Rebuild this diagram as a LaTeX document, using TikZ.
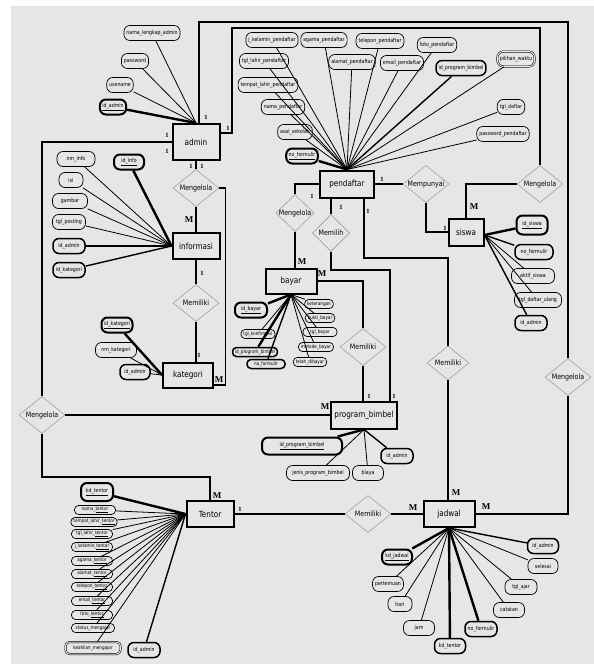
\documentclass[tikz,border=0pt]{standalone}
\usepackage{fontspec}
\setmainfont{DejaVu Sans}[FakeStretch=0.85]
\newfontfamily\cardfont{Liberation Serif}
\usetikzlibrary{shapes.geometric}
\definecolor{bgc}{HTML}{E6E6E6}
\definecolor{dgray}{HTML}{A0A0A0}
\tikzset{
  ent/.style={draw, line width=2pt, fill=bgc, inner sep=0pt, font=\fontsize{8.5}{9}\selectfont},
  rel/.style={diamond, draw=dgray, line width=0.6pt, fill=bgc, inner sep=-1.5pt, aspect=1.25, minimum width=46pt, minimum height=37pt, font=\fontsize{7.4}{8}\selectfont},
  attr/.style={draw, line width=0.7pt, rounded corners=6pt, fill=bgc, minimum height=15pt, inner xsep=2.5pt, inner ysep=0pt, font=\fontsize{5.5}{6}\selectfont},
  keyattr/.style={attr, line width=2pt},
  fkattr/.style={attr, line width=1.5pt},
  dblattr/.style={attr, double=bgc, double distance=1pt, line width=0.5pt},
  sattr/.style={attr, minimum height=9pt, rounded corners=4pt, font=\fontsize{4.9}{5.5}\selectfont},
  sfkattr/.style={sattr, line width=1.5pt},
  sdblattr/.style={sattr, double=bgc, double distance=1pt, line width=0.5pt, minimum height=12pt},
  al/.style={line width=0.8pt},
  kl/.style={line width=2.4pt},
  fl/.style={line width=1.4pt},
  conn/.style={line width=1.3pt},
  cardm/.style={font=\cardfont\bfseries\fontsize{9}{9}\selectfont, inner sep=0pt},
  cardone/.style={font=\cardfont\bfseries\fontsize{6.5}{7}\selectfont, inner sep=0pt}
}
\begin{document}
\begin{tikzpicture}[x=1pt,y=-1pt]
\useasboundingbox (0,0) rectangle (594,664);
\fill[white] (0,0) rectangle (594,664);
\fill[bgc] (11,6) rectangle (594,664);

% ---------- entities ----------
\node[ent, minimum width=47pt, minimum height=36pt] (admin) at (196,142) {admin};
\node[ent, minimum width=54pt, minimum height=27pt] (pendaftar) at (347,184) {pendaftar};
\node[ent, minimum width=47pt, minimum height=26pt] (informasi) at (196,246) {informasi};
\node[ent, minimum width=50pt, minimum height=25pt] (kategori) at (188,375) {kategori};
\node[ent, minimum width=51pt, minimum height=25pt] (bayar) at (291,281) {bayar};
\node[ent, minimum width=35pt, minimum height=27pt] (siswa) at (466,232) {siswa};
\node[ent, minimum width=66pt, minimum height=27pt] (program_bimbel) at (364,415) {program\_bimbel};
\node[ent, minimum width=47pt, minimum height=26pt] (Tentor) at (210,514) {Tentor};
\node[ent, minimum width=51pt, minimum height=26pt] (jadwal) at (449,514) {jadwal};

% ---------- relationships ----------
\node[rel] (R1) at (196,188) {Mengelola};
\node[rel] (R2) at (196,303) {Memiliki};
\node[rel, minimum width=38pt, aspect=1] (R3) at (295,213) {Mengelola};
\node[rel, minimum width=37pt, aspect=1] (R4) at (331,233) {Memilih};
\node[rel] (R5) at (363,347) {Memiliki};
\node[rel, minimum width=42pt, minimum height=34pt] (R6) at (448,363) {Memiliki};
\node[rel] (R7) at (540,184) {Mengelola};
\node[rel] (R8) at (568,377) {Mengelola};
\node[rel] (R9) at (42,415) {Mengelola};
\node[rel] (R10) at (426,184) {Mempunyai};
\node[rel] (R11) at (368,514) {Memiliki};

% ---------- connectors ----------
\coordinate (k1) at (390,270);
\coordinate (k2) at (364,258);
\draw[conn] ([xshift=3pt]admin.north) |- (568,22) -- (R8.north);
\draw[conn] (R8.south) |- (jadwal.east);
\draw[conn] ([yshift=9pt]admin.east) -| (232,28) -| (R7.north);
\draw[conn] (R7.west) -| (siswa.north);
\draw[conn] (admin.west) -| (R9.north);
\draw[conn] (R9.east) -- (program_bimbel.west);
\draw[conn] (Tentor.north) -- ++(0,-23) -| (R9.south);
\draw[conn] (admin.south) -- (R1.north);
\draw[conn] (R1.south) -- (informasi.north);
\draw[conn] (R1.east) -- ++(6,0) |- ([yshift=-10pt]kategori.east);
\draw[conn] (informasi.south) -- (R2.north);
\draw[conn] (R2.south) -- (R2.south |- kategori.north);
\draw[conn] (pendaftar.west) -| (R3.north);
\draw[conn] (R3.south) -- (R3.south |- bayar.north);
\draw[conn] (pendaftar.south -| R4.north) -- (R4.north);
\draw[conn] (R4.south) |- (k1) -- (k1 |- program_bimbel.north);
\draw[conn] (pendaftar.south -| k2) -- (k2) -| (R6.north);
\draw[conn] (R6.south) -- (R6.south |- jadwal.north);
\draw[conn] (bayar.east) -| (R5.north);
\draw[conn] (R5.south) -- (R5.south |- program_bimbel.north);
\draw[conn] (pendaftar.east) -- (R10.west);
\draw[conn] (R10.south) |- (siswa.west);
\draw[conn] (Tentor.east) -- (R11.west);
\draw[conn] (R11.east) -- (jadwal.west);

% ---------- cardinalities ----------
\node[cardone] (c1) at (206,117) {1};
\node[cardone] (c2) at (228,128) {1};
\node[cardone] (c3) at (167,135) {1};
\node[cardone] (c4) at (167,151) {1};
\node[cardone] (c5) at (191,166) {1};
\node[cardone] (c6) at (202,166) {1};
\node[cardm] (c7) at (189,220) {M};
\node[cardone] (c8) at (202,273) {1};
\node[cardone] (c9) at (199,355) {1};
\node[cardm] (c10) at (219,380) {M};
\node[cardone] (c11) at (312,196) {1};
\node[cardm] (c12) at (302,262) {M};
\node[cardone] (c13) at (341,207) {1};
\node[cardone] (c14) at (368,211) {1};
\node[cardm] (c15) at (322,274) {M};
\node[cardone] (c16) at (382,179) {1};
\node[cardone] (c17) at (445,228) {1};
\node[cardm] (c18) at (474,207) {M};
\node[cardone] (c19) at (369,396) {1};
\node[cardone] (c20) at (394,396) {1};
\node[cardm] (c21) at (325,407) {M};
\node[cardm] (c22) at (217,496) {M};
\node[cardone] (c23) at (240,509) {1};
\node[cardm] (c24) at (413,508) {M};
\node[cardm] (c25) at (456,493) {M};
\node[cardm] (c26) at (486,507) {M};

% ---------- admin attributes ----------
\node[attr] (ad1) at (152,33) {nama\_lengkap\_admin};
\node[attr] (ad2) at (135,61) {password};
\node[attr] (ad3) at (120,85) {usename};
\node[keyattr] (ad4) at (113,107) {\underline{id\_admin}};
\draw[al] (ad1) -- (admin.north);
\draw[al] (ad2) -- (admin.north);
\draw[al] (ad3) -- (admin.north);
\draw[kl] (ad4) -- (admin.north);

% ---------- pendaftar attributes ----------
\node[attr] (p1) at (272,40) {j\_kelamin\_pendaftar};
\node[attr] (p2) at (324,40) {agama\_pendaftar};
\node[attr] (p3) at (380,41) {telepon\_pendaftar};
\node[attr] (p4) at (437,45) {foto\_pendaftar};
\node[attr] (p5) at (264,61) {tgl\_lahir\_pendaftar};
\node[attr] (p6) at (352,62) {alamat\_pendaftar};
\node[attr] (p7) at (402,63) {email\_pendaftar};
\node[fkattr] (p8) at (461,68) {id\_program\_bimbel};
\node[dblattr] (p9) at (516,59) {pilihan\_waktu};
\node[attr] (p10) at (268,85) {tempat\_lahir\_pendaftar};
\node[attr] (p11) at (283,107) {nama\_pendaftar};
\node[attr] (p12) at (511,107) {tgl\_daftar};
\node[attr] (p13) at (295,132) {asal\_sekolah};
\node[attr] (p14) at (503,134) {password\_pendaftar};
\node[keyattr] (p15) at (302,156) {\underline{no\_formulir}};
\foreach \n in {p1,p2,p3,p4,p5,p6,p7,p9,p10,p11,p12,p13,p14}{\draw[al] (\n) -- (pendaftar.north);}
\draw[fl] (p8) -- (pendaftar.north);
\draw[kl] (p15) -- (pendaftar.north);

% ---------- informasi attributes ----------
\node[attr, minimum width=38pt] (i1) at (76,159) {nm\_info};
\node[keyattr, minimum width=30pt] (i2) at (129,162) {\underline{id\_info}};
\node[attr, minimum width=24pt] (i3) at (71,180) {isi};
\node[attr, minimum width=35pt] (i4) at (70,201) {gambar};
\node[attr, minimum width=33pt] (i5) at (69,222) {tgl\_posting};
\node[fkattr, minimum width=32pt] (i6) at (69,246) {id\_admin};
\node[fkattr, minimum width=32pt] (i7) at (69,270) {id\_kategori};
\foreach \n in {i1,i3,i4,i5}{\draw[al] (\n) -- (informasi.west);}
\draw[kl] (i2) -- (informasi.west);
\draw[fl] (i6) -- (informasi.west);
\draw[fl] (i7) -- (informasi.west);

% ---------- kategori attributes ----------
\node[keyattr, minimum width=31pt] (k_1) at (117,325) {\underline{id\_kategori}};
\node[attr, minimum width=41pt] (k_2) at (116,350) {nm\_kategori};
\node[fkattr, minimum width=30pt] (k_3) at (135,372) {id\_admin};
\draw[kl] (k_1) -- (kategori.west);
\draw[al] (k_2) -- (kategori.west);
\draw[al] (k_3) -- (kategori.west);

% ---------- bayar attributes ----------
\node[keyattr, minimum width=32pt] (b1) at (251,310) {\underline{id\_bayar}};
\node[sattr] (b2) at (319,304) {keterangan};
\node[sattr] (b3) at (320,318) {bukti\_bayar};
\node[sattr] (b4) at (258,334) {tgl\_konfirmasi};
\node[sattr, minimum width=34pt] (b5) at (320,332) {tgl\_bayar};
\node[sfkattr] (b6) at (255,352) {id\_program\_bimbel};
\node[sattr] (b7) at (316,347) {metode\_bayar};
\node[sfkattr, minimum width=38pt] (b8) at (266,364) {no\_formulir};
\node[sattr] (b9) at (310,362) {telah\_dibayar};
\draw[kl] (b1) -- (bayar.south);
\foreach \n in {b2,b3,b4,b5,b7,b9}{\draw[al] (\n) -- (bayar.south);}
\draw[kl] (b6) -- (bayar.south);
\draw[fl] (b8) -- (bayar.south);

% ---------- siswa attributes ----------
\coordinate (sv) at ([yshift=-3pt]siswa.east);
\node[keyattr, minimum width=31pt, minimum height=19pt] (s1) at (532,225) {\underline{id\_siswa}};
\node[fkattr, minimum width=38pt] (s2) at (534,252) {no\_formulir};
\node[attr, minimum width=43pt] (s3) at (533,276) {aktif\_siswa};
\node[attr, minimum width=47pt] (s4) at (538,300) {tgl\_daftar\_ulang};
\node[fkattr, minimum width=32pt] (s5) at (531,323) {id\_admin};
\draw[kl] (s1) -- (sv);
\draw[fl] (s2) -- (sv);
\draw[al] (s3) -- (sv);
\draw[al] (s4) -- (sv);
\draw[fl] (s5) -- (sv);

% ---------- program_bimbel attributes ----------
\node[keyattr, minimum width=80pt, minimum height=17pt] (g1) at (302,446) {\underline{id\_program\_bimbel}};
\node[attr, minimum width=63pt] (g2) at (318,473) {jenis\_program\_bimbel};
\node[attr, minimum width=31pt] (g3) at (368,473) {biaya};
\node[fkattr, minimum width=32pt] (g4) at (397,456) {id\_admin};
\draw[kl] (g1) -- (program_bimbel.south);
\draw[al] (g2) -- (program_bimbel.south);
\draw[al] (g3) -- (program_bimbel.south);
\draw[fl] (g4) -- (program_bimbel.south);

% ---------- Tentor attributes ----------
\node[keyattr, minimum width=32pt, minimum height=18pt] (t1) at (97,492) {\underline{kd\_tentor}};
\node[sattr, minimum width=41pt] (t2) at (95,510) {nama\_\underline{tentor}};
\node[sattr, minimum width=41pt] (t3) at (94,522) {tempat\_lahir\_\underline{tentor}};
\node[sattr, minimum width=41pt] (t4) at (92,534) {tgl\_lahir\_\underline{tentor}};
\node[sattr, minimum width=41pt] (t5) at (92,547) {j\_kelamin\_\underline{tentor}};
\node[sattr, minimum width=41pt] (t6) at (92,561) {agama\_\underline{tentor}};
\node[sattr, minimum width=41pt] (t7) at (92,574) {alamat\_\underline{tentor}};
\node[sattr, minimum width=41pt] (t8) at (92,587) {telepon\_\underline{tentor}};
\node[sattr, minimum width=41pt] (t9) at (92,601) {email\_\underline{tentor}};
\node[sattr, minimum width=41pt] (t10) at (92,615) {foto\_\underline{tentor}};
\node[sattr, minimum width=43pt] (t11) at (93,628) {status\_mengajar};
\node[sdblattr, minimum width=55pt] (t12) at (93,648) {keahlian\_mengajar};
\node[fkattr, minimum width=32pt] (t13) at (144,650) {id\_admin};
\draw[kl] (t1) -- (Tentor.west);
\foreach \n in {t2,t3,t4,t5,t6,t7,t8,t9,t10,t11,t12}{\draw[al] (\n) -- (Tentor.west);}
\draw[fl] (t13) -- (Tentor.west);

% ---------- jadwal attributes ----------
\node[keyattr, minimum width=30pt] (j1) at (397,557) {\underline{kd\_jadwal}};
\node[attr, minimum width=28pt] (j2) at (388,584) {pertemuan};
\node[attr, minimum width=24pt] (j3) at (400,604) {hari};
\node[attr, minimum width=31pt] (j4) at (419,628) {jam};
\node[fkattr, minimum width=31pt] (j5) at (450,646) {kd\_tentor};
\node[fkattr, minimum width=32pt] (j6) at (481,629) {no\_formulir};
\node[attr, minimum width=31pt] (j7) at (509,610) {catatan};
\node[attr, minimum width=32pt] (j8) at (521,587) {tgl\_ajar};
\node[attr, minimum width=30pt] (j9) at (543,566) {selesai};
\node[fkattr, minimum width=31pt] (j10) at (543,546) {id\_admin};
\draw[kl] (j1) -- (jadwal.south);
\foreach \n in {j2,j3,j4,j7,j8,j9}{\draw[al] (\n) -- (jadwal.south);}
\draw[kl] (j5) -- (jadwal.south);
\draw[kl] (j6) -- (jadwal.south);
\draw[fl] (j10) -- (jadwal.south);
\end{tikzpicture}
\end{document}
